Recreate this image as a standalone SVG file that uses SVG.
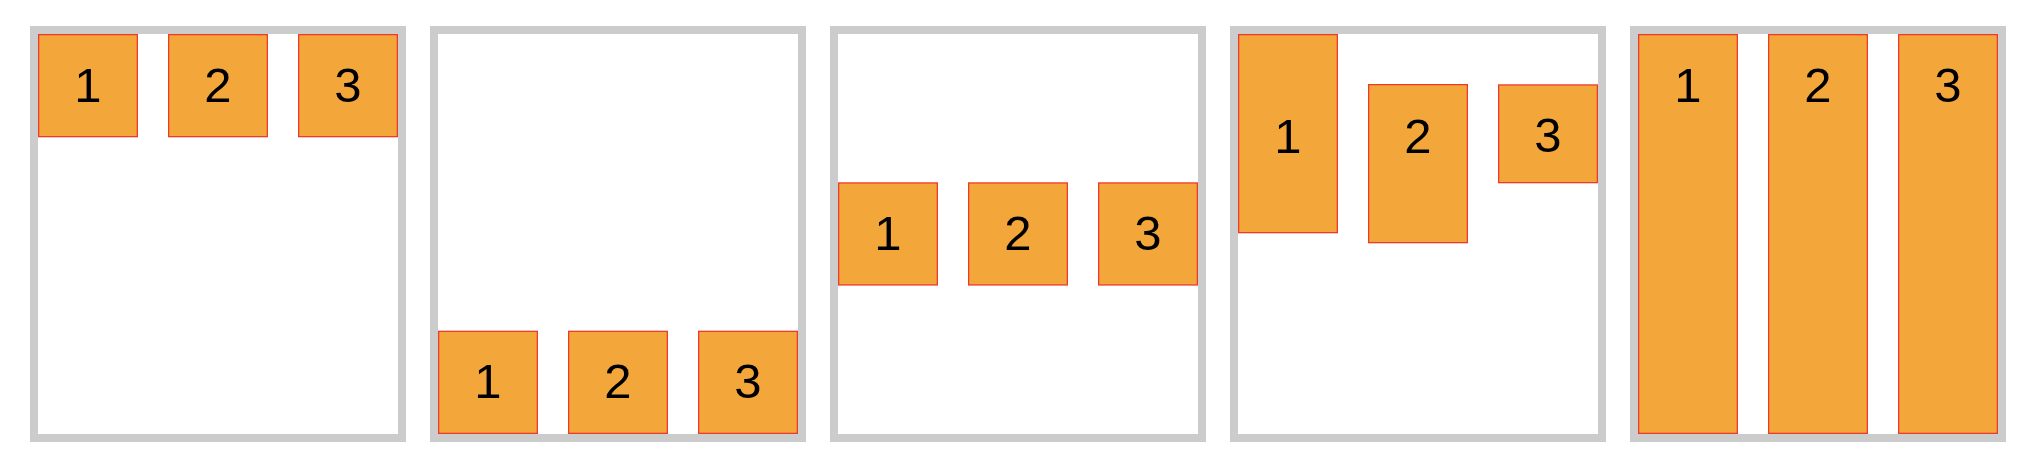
<svg xmlns="http://www.w3.org/2000/svg" width="2030" height="462" viewBox="0 0 2030 462">
<style>
.frame{fill:#FFFFFF;stroke:#CCCCCC;stroke-width:8}
.box{fill:#F3A73B;stroke:#EE3A2A;stroke-width:1.3}
.lbl{font-family:"Liberation Sans",Arial,sans-serif;font-size:49px;fill:#000000;text-anchor:middle}
</style>
<rect x="0" y="0" width="2030" height="462" fill="#FFFFFF"/>
<g id="connectors"></g>
<g id="panel1">
<rect class="frame" x="34" y="30" width="368" height="408"/>
<g id="p1-box1"><rect class="box" x="38.65" y="34.65" width="98.7" height="102"/><text class="lbl" x="88" y="102">1</text></g>
<g id="p1-box2"><rect class="box" x="168.65" y="34.65" width="98.7" height="102"/><text class="lbl" x="218" y="102">2</text></g>
<g id="p1-box3"><rect class="box" x="298.65" y="34.65" width="98.7" height="102"/><text class="lbl" x="348" y="102">3</text></g>
</g>
<g id="panel2">
<rect class="frame" x="434" y="30" width="368" height="408"/>
<g id="p2-box1"><rect class="box" x="438.65" y="331.35" width="98.7" height="102"/><text class="lbl" x="488" y="398.3">1</text></g>
<g id="p2-box2"><rect class="box" x="568.65" y="331.35" width="98.7" height="102"/><text class="lbl" x="618" y="398.3">2</text></g>
<g id="p2-box3"><rect class="box" x="698.65" y="331.35" width="98.7" height="102"/><text class="lbl" x="748" y="398.3">3</text></g>
</g>
<g id="panel3">
<rect class="frame" x="834" y="30" width="368" height="408"/>
<g id="p3-box1"><rect class="box" x="838.65" y="182.95" width="98.7" height="102"/><text class="lbl" x="888" y="250">1</text></g>
<g id="p3-box2"><rect class="box" x="968.65" y="182.95" width="98.7" height="102"/><text class="lbl" x="1018" y="250">2</text></g>
<g id="p3-box3"><rect class="box" x="1098.65" y="182.95" width="98.7" height="102"/><text class="lbl" x="1148" y="250">3</text></g>
</g>
<g id="panel4">
<rect class="frame" x="1234" y="30" width="368" height="408"/>
<g id="p4-box1"><rect class="box" x="1238.65" y="34.65" width="98.7" height="198"/><text class="lbl" x="1288" y="153">1</text></g>
<g id="p4-box2"><rect class="box" x="1368.65" y="84.65" width="98.7" height="158"/><text class="lbl" x="1418" y="153">2</text></g>
<g id="p4-box3"><rect class="box" x="1498.65" y="84.95" width="98.7" height="97.7"/><text class="lbl" x="1548" y="152">3</text></g>
</g>
<g id="panel5">
<rect class="frame" x="1634" y="30" width="368" height="408"/>
<g id="p5-box1"><rect class="box" x="1638.65" y="34.65" width="98.7" height="398.7"/><text class="lbl" x="1688" y="102">1</text></g>
<g id="p5-box2"><rect class="box" x="1768.65" y="34.65" width="98.7" height="398.7"/><text class="lbl" x="1818" y="102">2</text></g>
<g id="p5-box3"><rect class="box" x="1898.65" y="34.65" width="98.7" height="398.7"/><text class="lbl" x="1948" y="102">3</text></g>
</g>
</svg>
